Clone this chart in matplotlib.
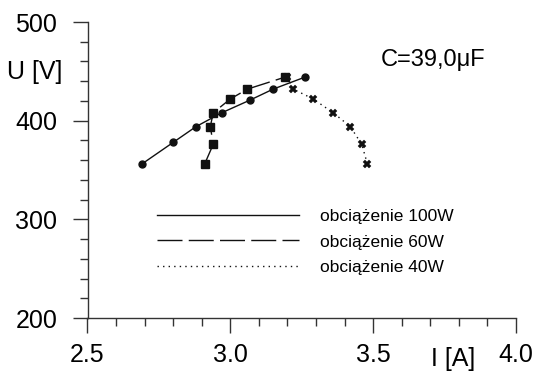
import matplotlib
matplotlib.use("Agg")
from matplotlib import pyplot as plt
from matplotlib.ticker import MultipleLocator, FormatStrFormatter

# voltage levels
u_100 = [356, 378, 394, 408, 421, 432, 444]
u_60 = [356, 376, 394, 408, 422, 432, 444]
u_40 = [356, 376, 394, 408, 422, 432, 444]
# currents
i_100 = [2.69, 2.80, 2.88, 2.97, 3.07, 3.15, 3.26]
i_60 = [2.91, 2.94, 2.93, 2.94, 3.00, 3.06, 3.19]
i_40 = [3.48, 3.46, 3.42, 3.36, 3.29, 3.22, 3.20]

labels = ["obciążenie 100W", "obciążenie 60W", "obciążenie 40W"]

plt.rcParams['font.family'] = ['Liberation Sans', 'DejaVu Sans']

fig = plt.figure(figsize=(5.34, 3.76), dpi=100)
ax = fig.add_axes([87.5 / 534, 58 / 376, 428.5 / 534, 296 / 376])

k = "#111111"
ax.plot(i_100, u_100, color=k, lw=1.0, ls="-", label=labels[0])
ax.plot(i_60, u_60, color=k, lw=1.0, ls=(0, (18, 4.5)), label=labels[1])
ax.plot(i_40, u_40, color=k, lw=1.0, ls=(0, (1, 3)), label=labels[2])

ax.plot(i_100, u_100, ls="none", marker="o", ms=5, color=k)
ax.plot(i_60, u_60, ls="none", marker="s", ms=5.5, color=k)
ax.plot(i_40, u_40, ls="none", marker="X", ms=5.5, color=k, mew=0.3)

ax.set_xlim(2.5, 4.0)
ax.set_ylim(200, 500)
ax.xaxis.set_major_locator(MultipleLocator(0.5))
ax.xaxis.set_minor_locator(MultipleLocator(0.1))
ax.xaxis.set_major_formatter(FormatStrFormatter("%.1f"))
ax.yaxis.set_major_locator(MultipleLocator(100))
ax.yaxis.set_minor_locator(MultipleLocator(20))

for s in ("top", "right"):
    ax.spines[s].set_visible(False)
for s in ("left", "bottom"):
    ax.spines[s].set_linewidth(1.0)
    ax.spines[s].set_color("#333333")

ax.tick_params(which="major", length=10.8, width=1.0, color="#333333", labelsize=18)
ax.tick_params(which="minor", length=5.8, width=1.0, color="#333333")
ax.tick_params(axis="x", which="major", pad=7)
ax.tick_params(axis="y", which="major", pad=11)

fig.text(35 / 534, 1 - 72 / 376, "U [V]", fontsize=18, ha="center", va="center")
fig.text(453 / 534, 1 - 359 / 376, "I [A]", fontsize=18, ha="center", va="center")
fig.text(433 / 534, 1 - 60 / 376, "C=39,0μF", fontsize=17, ha="center", va="center")

leg = ax.legend(loc="center left", bbox_to_anchor=(157 / 534, 1 - 242 / 376),
                bbox_transform=fig.transFigure, frameon=False, fontsize=12.5,
                handlelength=8.2, handletextpad=1.2, labelspacing=0.6,
                borderpad=0, borderaxespad=0)

fig.savefig("out.png", dpi=100)
